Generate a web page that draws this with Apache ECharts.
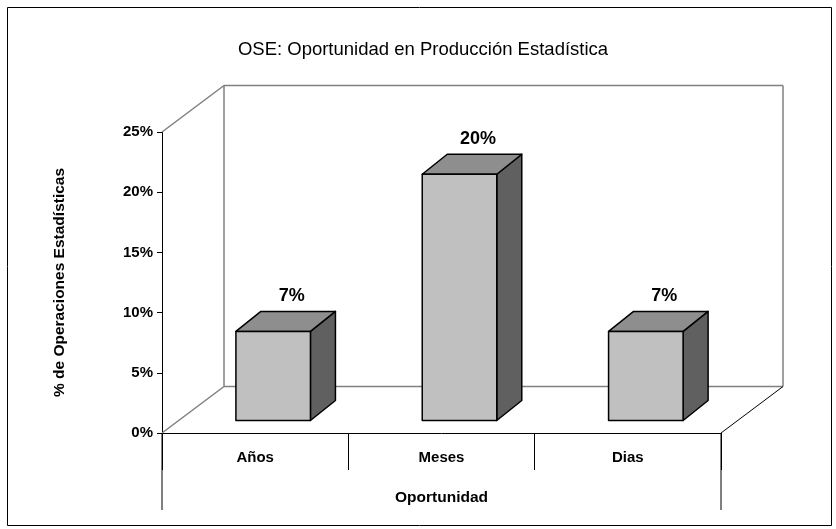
<!DOCTYPE html>
<html>
<head>
<meta charset="utf-8">
<script src="https://cdn.jsdelivr.net/npm/echarts@6/dist/echarts.min.js"></script>
<style>
html, body { margin: 0; padding: 0; background: #fff; }
#main { width: 836px; height: 529px; }
</style>
</head>
<body>
<div id="main"></div>
<script>
// data
const categories = ['Años', 'Meses', 'Dias'];
const values = [7.4, 20.45, 7.4]; // % de operaciones
const yTicks = [0, 5, 10, 15, 20, 25];

const FONT = '"Liberation Sans", Arial, sans-serif';
// oblique 3D look (Excel style)
const WALL_DX = 62, WALL_DY = -46.5;     // depth of the floor / back wall
const BAR_FX = 18, BAR_FY = -12.5;       // bar front face offset from the floor front
const BAR_DX = 25, BAR_DY = -20;         // bar depth

const chart = echarts.init(document.getElementById('main'));

function renderFrame(params, api) {
	const cs = params.coordSys;
	const x = cs.x, y = cs.y, w = cs.width, h = cs.height;
	const gray = { stroke: '#808080', lineWidth: 1.5 };
	const black = { stroke: '#000', lineWidth: 1 };
	const line = (x1, y1, x2, y2, style) => ({ type: 'line', shape: { x1, y1, x2, y2 }, style });
	return {
		type: 'group',
		children: [
			line(x + WALL_DX, y + WALL_DY, x + w + WALL_DX, y + WALL_DY, gray),
			line(x + WALL_DX, y + WALL_DY, x + WALL_DX, y + h + WALL_DY, gray),
			line(x + w + WALL_DX, y + WALL_DY, x + w + WALL_DX, y + h + WALL_DY, gray),
			line(x + WALL_DX, y + h + WALL_DY, x + w + WALL_DX, y + h + WALL_DY, gray),
			line(x, y, x + WALL_DX, y + WALL_DY, gray),
			line(x, y + h, x + WALL_DX, y + h + WALL_DY, gray),
			line(x + w, y + h, x + w + WALL_DX, y + h + WALL_DY, black),
			line(x, y + h, x, y + h + 77, black),
			line(x + w, y + h, x + w, y + h + 77, black),
		],
	};
}

function renderBar(params, api) {
	const base = api.coord([api.value(0), 0]);
	const top = api.coord([api.value(0), api.value(1)]);
	const bw = api.size([1, 0])[0] * 0.4;
	const x0 = base[0] - bw / 2 + BAR_FX, x1 = x0 + bw;
	const yb = base[1] + BAR_FY, yt = top[1] + BAR_FY;
	const edge = { stroke: '#000', lineWidth: 1.5, lineJoin: 'round' };
	return {
		type: 'group',
		children: [
			{ type: 'polygon', shape: { points: [[x1, yt], [x1 + BAR_DX, yt + BAR_DY], [x1 + BAR_DX, yb + BAR_DY], [x1, yb]] },
				style: Object.assign({ fill: '#606060' }, edge) },
			{ type: 'polygon', shape: { points: [[x0, yt], [x1, yt], [x1 + BAR_DX, yt + BAR_DY], [x0 + BAR_DX, yt + BAR_DY]] },
				style: Object.assign({ fill: '#8e8e8e' }, edge) },
			{ type: 'polygon', shape: { points: [[x0, yt], [x1, yt], [x1, yb], [x0, yb]] },
				style: Object.assign({ fill: '#c0c0c0' }, edge) },
			{ type: 'text', x: (x0 + x1) / 2 + BAR_DX / 2 + 6, y: yt + BAR_DY - 15,
				style: { text: Math.round(api.value(1)) + '%', fill: '#000', font: 'bold 18px ' + FONT, align: 'center', verticalAlign: 'middle' } },
		],
	};
}

chart.setOption({
	animation: false,
	backgroundColor: '#fff',
	graphic: [{
		type: 'rect', left: 5, top: 5, shape: { width: 824, height: 518 },
		style: { fill: 'none', stroke: '#000', lineWidth: 1 }, z: -10,
	}],
	title: {
		text: 'OSE: Oportunidad en Producción Estadística',
		left: 418, top: 35, textAlign: 'center',
		textStyle: { fontFamily: FONT, fontSize: 18.5, fontWeight: 'normal', color: '#000' },
	},
	grid: { left: 162, right: 115, top: 132, bottom: 96 },
	xAxis: {
		type: 'category',
		data: categories,
		name: 'Oportunidad',
		nameLocation: 'middle',
		nameGap: 57,
		nameTextStyle: { fontFamily: FONT, fontSize: 15.5, fontWeight: 'bold', color: '#000' },
		axisLine: { lineStyle: { color: '#000', width: 1 } },
		axisTick: { show: true, length: 37, interval: 0, alignWithLabel: false, lineStyle: { color: '#000' } },
		axisLabel: { margin: 17, fontFamily: FONT, fontSize: 15, fontWeight: 'bold', color: '#000' },
		splitLine: { show: false },
	},
	yAxis: {
		type: 'value',
		min: yTicks[0], max: yTicks[yTicks.length - 1], interval: yTicks[1] - yTicks[0],
		name: '% de Operaciones Estadísticas',
		nameLocation: 'middle',
		nameRotate: 90,
		nameGap: 94,
		nameTextStyle: { fontFamily: FONT, fontSize: 15.5, fontWeight: 'bold', color: '#000' },
		axisLine: { show: true, lineStyle: { color: '#000', width: 1 } },
		axisTick: { show: true, length: 5, lineStyle: { color: '#000' } },
		axisLabel: { formatter: '{value}%', margin: 9, fontFamily: FONT, fontSize: 15, fontWeight: 'bold', color: '#000' },
		splitLine: { show: false },
	},
	series: [
		{ type: 'custom', renderItem: renderFrame, data: [[0, 0]], z: 1, silent: true },
		{ type: 'custom', renderItem: renderBar, data: categories.map((c, i) => [i, values[i]]), z: 5 },
	],
});
</script>
</body>
</html>
